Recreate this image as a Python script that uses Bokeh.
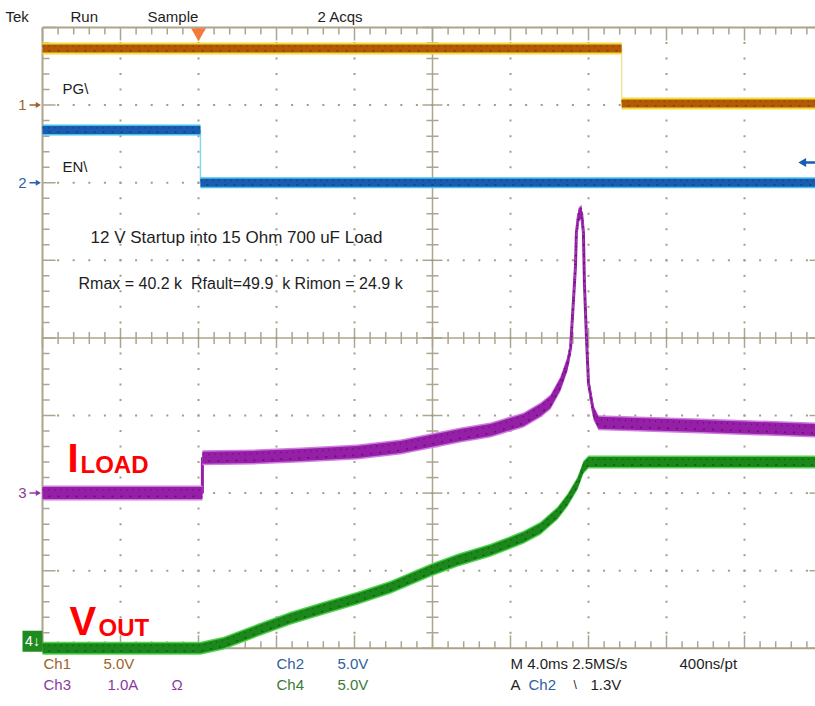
import numpy as np
from bokeh.plotting import figure
from bokeh.models import Range1d, Label
from bokeh.embed import file_html
from bokeh.resources import INLINE

# ---------------- data (time in ms, trigger at 0 ms) ----------------
ch_names = ["Ch1", "Ch2", "Ch3", "Ch4"]
ch_scale = [5.0, 5.0, 1.0, 5.0]          # units per division
ch_unit = ["V", "V", "A", "V"]
ch_offset_div = [3.0, 2.0, -2.0, -4.0]   # ground marker position (divisions)

pg_t = [-8.0, 21.7, 21.7, 32.0]          # Ch1  PG\  (V)
pg_v = [3.65, 3.65, 0.10, 0.10]

en_t = [-8.0, 0.1, 0.1, 32.0]            # Ch2  EN\  (V)
en_v = [3.40, 3.40, 0.00, 0.00]

iload_t = [-8.0, 0.2, 0.2, 3.03, 5.23, 8.15, 10.36, 11.90, 13.44, 14.97, 15.49,
           16.67, 17.54, 18.05, 18.56, 18.92, 19.08, 19.23, 19.33, 19.38, 19.49,
           19.64, 19.74, 19.79, 19.90, 20.0, 20.26, 20.51, 25.74, 32.0]   # Ch3 I_LOAD (A)
iload_a = [0.0, 0.0, 0.454, 0.467, 0.492, 0.531, 0.595, 0.673, 0.75, 0.814, 0.853,
           0.943, 1.072, 1.175, 1.407, 1.665, 1.871, 2.49, 2.915, 3.353, 3.585,
           3.624, 3.353, 2.709, 1.974, 1.420, 1.034, 0.905, 0.866, 0.81]

vout_t = [-8.0, 0.1, 1.28, 3.03, 4.72, 6.41, 8.15, 9.85, 11.90, 13.28, 14.97,
          16.67, 17.54, 18.41, 18.92, 19.44, 19.74, 20.0, 32.0]        # Ch4 V_OUT (V)
vout_v = [0.0, 0.0, 0.32, 1.16, 1.93, 2.58, 3.22, 3.93, 5.03, 5.67, 6.31,
          7.15, 7.73, 8.70, 9.54, 10.63, 11.66, 12.0, 12.0]

trig_level_v = 1.3   # on Ch2
ms_per_div = 4.0
trig_pos_div = 2.0

# ---------------- geometry ----------------
W, H = 815, 706
GX0, DIVX = 42.0, 78.0
GY_TOP, DIVY = 27.0, 77.6
kx = ms_per_div / DIVX      # ms per pixel
ky = 1.0 / DIVY             # div per pixel
t_left = -trig_pos_div * ms_per_div          # -8 ms at graticule left
t_right = t_left + 10 * ms_per_div           # 32 ms


def X(px):
    return t_left + (px - GX0) * kx


def Y(py):
    return 4.0 - (py - GY_TOP) * ky


p = figure(width=W, height=H, x_range=Range1d(X(0), X(W)), y_range=Range1d(Y(H), Y(0)),
           min_border=0, min_border_left=0, min_border_right=0, min_border_top=0,
           min_border_bottom=0, toolbar_location=None, output_backend="svg",
           x_axis_location=None, y_axis_location=None)
p.grid.visible = False
p.outline_line_color = None
p.background_fill_color = "white"
p.border_fill_color = "white"

GC = "#aca48c"
DOT = "#a39c86"

# ---------------- graticule ----------------
minors_x = [t_left + 0.2 * ms_per_div * i for i in range(51)]
minors_y = [-4.0 + 0.2 * j for j in range(41)]

p.multi_line(xs=[[t_left, t_right], [t_left, t_right], [t_left, t_left], [t_right, t_right]],
             ys=[[4, 4], [-4, -4], [-4, 4], [-4, 4]], line_color=GC, line_width=2)
tc = t_left + 5 * ms_per_div
p.multi_line(xs=[[t_left, t_right], [tc, tc]], ys=[[0, 0], [-4, 4]], line_color=GC, line_width=1.5)

sx0, sy0, sx1, sy1 = [], [], [], []
for i, xt in enumerate(minors_x):
    L = 13 if i % 5 == 0 else 7
    sx0 += [xt, xt]; sx1 += [xt, xt]
    sy0 += [4, -4]; sy1 += [4 - L * ky, -4 + L * ky]
    Lc = 10 if i % 5 == 0 else 6
    sx0.append(xt); sx1.append(xt); sy0.append(-Lc * ky); sy1.append(Lc * ky)
for j, yt in enumerate(minors_y):
    L = 13 if j % 5 == 0 else 7
    sx0 += [t_left, t_right]; sx1 += [t_left + L * kx, t_right - L * kx]
    sy0 += [yt, yt]; sy1 += [yt, yt]
    Lc = 10 if j % 5 == 0 else 6
    sx0.append(tc - Lc * kx); sx1.append(tc + Lc * kx); sy0.append(yt); sy1.append(yt)
p.segment(x0=sx0, y0=sy0, x1=sx1, y1=sy1, line_color=GC, line_width=1.5)

dx, dy = [], []
for k in range(1, 10):
    if k == 5:
        continue
    for j in range(1, 40):
        dx.append(t_left + ms_per_div * k); dy.append(-4.0 + 0.2 * j)
for r in range(-3, 4):
    if r == 0:
        continue
    for i in range(1, 50):
        dx.append(t_left + 0.2 * ms_per_div * i); dy.append(float(r))
p.scatter(dx, dy, marker="square", size=2, fill_color=DOT, line_color=None)


# ---------------- traces ----------------
def split_runs(t, y):
    """split a trace at its instantaneous (vertical) edges"""
    xs, ys = [[t[0]]], [[y[0]]]
    for i in range(1, len(t)):
        if t[i] == t[i - 1]:
            xs.append([t[i]]); ys.append([y[i]])
        else:
            xs[-1].append(t[i]); ys[-1].append(y[i])
    return xs, ys


def draw_trace(t, v, ch, h_core, h_halo, core, halo, thin_color, speck, thin_w=1.5):
    t = np.asarray(t, float)
    y = np.asarray(v, float) / ch_scale[ch] + ch_offset_div[ch]
    p.line(t, y, line_color=thin_color, line_width=thin_w)
    p.varea(x=t, y1=y - h_halo * ky, y2=y + h_halo * ky, fill_color=halo)
    p.varea(x=t, y1=y - h_core * ky, y2=y + h_core * ky, fill_color=core)
    # acquisition-noise texture (not on the fast edges)
    rx, ry = split_runs(list(t), list(y))
    up = [[yy + 0.55 * h_core * ky for yy in r] for r in ry]
    dn = [[yy - 0.55 * h_core * ky for yy in r] for r in ry]
    p.multi_line(rx, up, line_color=speck, line_width=1.5, line_dash="1 5", line_alpha=0.8)
    p.multi_line(rx, dn, line_color=speck, line_width=1.5, line_dash="2 7",
                 line_dash_offset=3, line_alpha=0.8)


draw_trace(pg_t, pg_v, 0, 4.0, 6.0, "#b45a06", "#f0dc3c", "#f0e49a", "#7a3a00")
draw_trace(en_t, en_v, 1, 4.0, 5.5, "#1a5cb0", "#44c4ee", "#8ad4f0", "#0c3c7c")
draw_trace(iload_t, iload_a, 2, 6.0, 7.5, "#951fa6", "#cf7ee0", "#951fa6", "#5a0e66", thin_w=3)
draw_trace(vout_t, vout_v, 3, 5.0, 6.5, "#1c881c", "#52d452", "#1c881c", "#0c560c", thin_w=2.5)

# trigger position marker
p.scatter([0.0], [4.0 - 5 * ky], marker="inverted_triangle", size=15,
          fill_color="#f47a3c", line_color=None)

# trigger level arrow (right)
lvl = ch_offset_div[1] + trig_level_v / ch_scale[1]
p.segment(x0=[X(803)], y0=[lvl], x1=[X(815)], y1=[lvl], line_color="#1a5cb0", line_width=2.5)
p.scatter([X(803)], [lvl], marker="triangle", angle=np.pi / 2, size=9,
          fill_color="#1a5cb0", line_color=None)

# channel ground markers
mk_colors = ["#a0622a", "#2e62a8", "#8e3a9c"]
for c in range(3):
    yo = ch_offset_div[c]
    p.segment(x0=[X(29)], y0=[yo], x1=[X(37)], y1=[yo], line_color=mk_colors[c], line_width=1.5)
    p.scatter([X(37)], [yo], marker="triangle", angle=-np.pi / 2, size=6,
              fill_color=mk_colors[c], line_color=None)
    p.add_layout(Label(x=X(22), y=yo, text=str(c + 1), text_color=mk_colors[c],
                       text_font="Liberation Sans", text_font_size="15px",
                       text_align="center", text_baseline="middle"))
p.rect(x=[X(32)], y=[ch_offset_div[3] + 7 * ky], width=20 * kx, height=21 * ky,
       fill_color="#1f8a1f", line_color=None)
p.add_layout(Label(x=X(32), y=ch_offset_div[3] + 7 * ky, text="4\u2193", text_color="white",
                   text_font="Liberation Sans", text_font_size="14px",
                   text_align="center", text_baseline="middle"))


def lab(text, px, py, size="15px", color="#1e1e1e", font="Liberation Sans", style="normal",
        baseline="middle"):
    p.add_layout(Label(x=X(px), y=Y(py), text=text, text_color=color, text_font=font,
                       text_font_size=size, text_font_style=style,
                       text_align="left", text_baseline=baseline))


# header
lab("Tek", 5, 16)
lab("Run", 70, 16)
lab("Sample", 147, 16)
lab("2 Acqs", 317, 16)

# annotations
lab("PG\\", 62, 88)
lab("EN\\", 62, 166)
lab("12 V Startup into 15 Ohm 700 uF Load", 90, 237, size="17px")
lab("Rmax = 40.2 k\u00a0 Rfault=49.9\u00a0 k Rimon = 24.9 k", 78, 283, size="16px")

RED = "#ff0000"
lab("I", 67, 457, size="40px", color=RED, style="bold", baseline="alphabetic")
lab("LOAD", 80, 464, size="24px", color=RED, style="bold", baseline="alphabetic")
lab("V", 69, 620, size="40px", color=RED, style="bold", baseline="alphabetic")
lab("OUT", 98, 627, size="24px", color=RED, style="bold", baseline="alphabetic")

# bottom status
c1, c2, c3, c4 = "#9c6428", "#2e5f9e", "#8b3a9b", "#3b7a35"
lab(ch_names[0], 43, 663, color=c1)
lab(f"{ch_scale[0]:.1f}{ch_unit[0]}", 103, 663, color=c1)
lab(ch_names[2], 43, 684, color=c3)
lab(f"{ch_scale[2]:.1f}{ch_unit[2]}", 107, 684, color=c3)
lab("\u03a9", 171, 684, color=c3)
lab(ch_names[1], 276, 663, color=c2)
lab(f"{ch_scale[1]:.1f}{ch_unit[1]}", 337, 663, color=c2)
lab(ch_names[3], 276, 684, color=c4)
lab(f"{ch_scale[3]:.1f}{ch_unit[3]}", 337, 684, color=c4)
lab(f"M {ms_per_div:.1f}ms 2.5MS/s", 510, 663)
lab("400ns/pt", 679, 663)
lab("A", 510, 684)
lab("Ch2", 528, 684, color=c2)
lab("\\", 573, 684, size="12px")
lab(f"{trig_level_v:.1f}V", 590, 684)

open("out.html", "w").write(file_html(p, INLINE))
